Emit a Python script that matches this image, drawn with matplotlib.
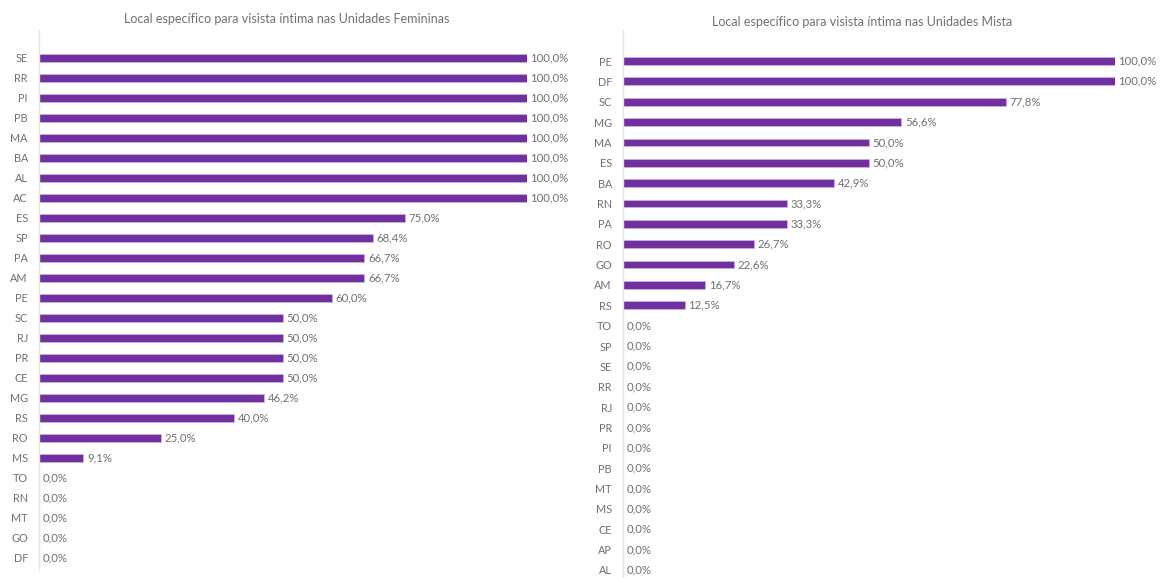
import matplotlib
matplotlib.use("Agg")
import matplotlib.pyplot as plt

# ---- data ----
fem_states = ["SE", "RR", "PI", "PB", "MA", "BA", "AL", "AC", "ES", "SP", "PA", "AM", "PE",
              "SC", "RJ", "PR", "CE", "MG", "RS", "RO", "MS", "TO", "RN", "MT", "GO", "DF"]
fem_values = [100.0, 100.0, 100.0, 100.0, 100.0, 100.0, 100.0, 100.0, 75.0, 68.4, 66.7, 66.7, 60.0,
              50.0, 50.0, 50.0, 50.0, 46.2, 40.0, 25.0, 9.1, 0.0, 0.0, 0.0, 0.0, 0.0]
fem_title = "Local específico para visista íntima nas Unidades Femininas"

mix_states = ["PE", "DF", "SC", "MG", "MA", "ES", "BA", "RN", "PA", "RO", "GO", "AM", "RS",
              "TO", "SP", "SE", "RR", "RJ", "PR", "PI", "PB", "MT", "MS", "CE", "AP", "AL"]
mix_values = [100.0, 100.0, 77.8, 56.6, 50.0, 50.0, 42.9, 33.3, 33.3, 26.7, 22.6, 16.7, 12.5,
              0.0, 0.0, 0.0, 0.0, 0.0, 0.0, 0.0, 0.0, 0.0, 0.0, 0.0, 0.0, 0.0]
mix_title = "Local específico para visista íntima nas Unidades Mista"

W, H = 1164, 578
BAR = "#7030A0"
GRAY = "#707070"
plt.rcParams["font.family"] = ["Lato", "DejaVu Sans"]

fig = plt.figure(figsize=(W / 100, H / 100), dpi=100)
fig.patch.set_facecolor("white")


def panel(left_px, width_px, top_px, bottom_px, first_y, step, states, values, title, title_xy):
    ax = fig.add_axes([left_px / W, (H - bottom_px) / H, width_px / W, (bottom_px - top_px) / H])
    n = len(states)
    pos = list(range(n))
    ax.barh(pos, values, height=0.38, color=BAR, edgecolor="#c9b3da", linewidth=0.6)
    ax.set_xlim(0, 100)
    ytop = -(first_y - top_px) / step
    ybot = (bottom_px - first_y) / step
    ax.set_ylim(ybot, ytop)
    ax.set_yticks(pos)
    ax.set_yticklabels(states, color=GRAY, fontsize=7.8)
    ax.tick_params(axis="y", length=0, pad=8)
    ax.set_xticks([])
    for s in ["top", "right", "bottom"]:
        ax.spines[s].set_visible(False)
    ax.spines["left"].set_color("#e6e6e6")
    ax.spines["left"].set_linewidth(1.0)
    for p, v in zip(pos, values):
        ax.annotate(f"{v:.1f}%".replace(".", ","), xy=(v, p), xytext=(2.5, 0),
                    textcoords="offset points", va="center", ha="left",
                    fontsize=8.2, color=GRAY, annotation_clip=False, clip_on=False)
    fig.text(title_xy[0] / W, 1 - title_xy[1] / H, title, ha="center", va="center",
             fontsize=9.0, color=GRAY)
    return ax


panel(39, 488, 30, 570, 58, 20.0, fem_states, fem_values, fem_title, (287, 19))
panel(623, 492, 30, 578, 61, 20.36, mix_states, mix_values, mix_title, (862, 22))

fig.savefig("out.png", dpi=100, facecolor="white")
